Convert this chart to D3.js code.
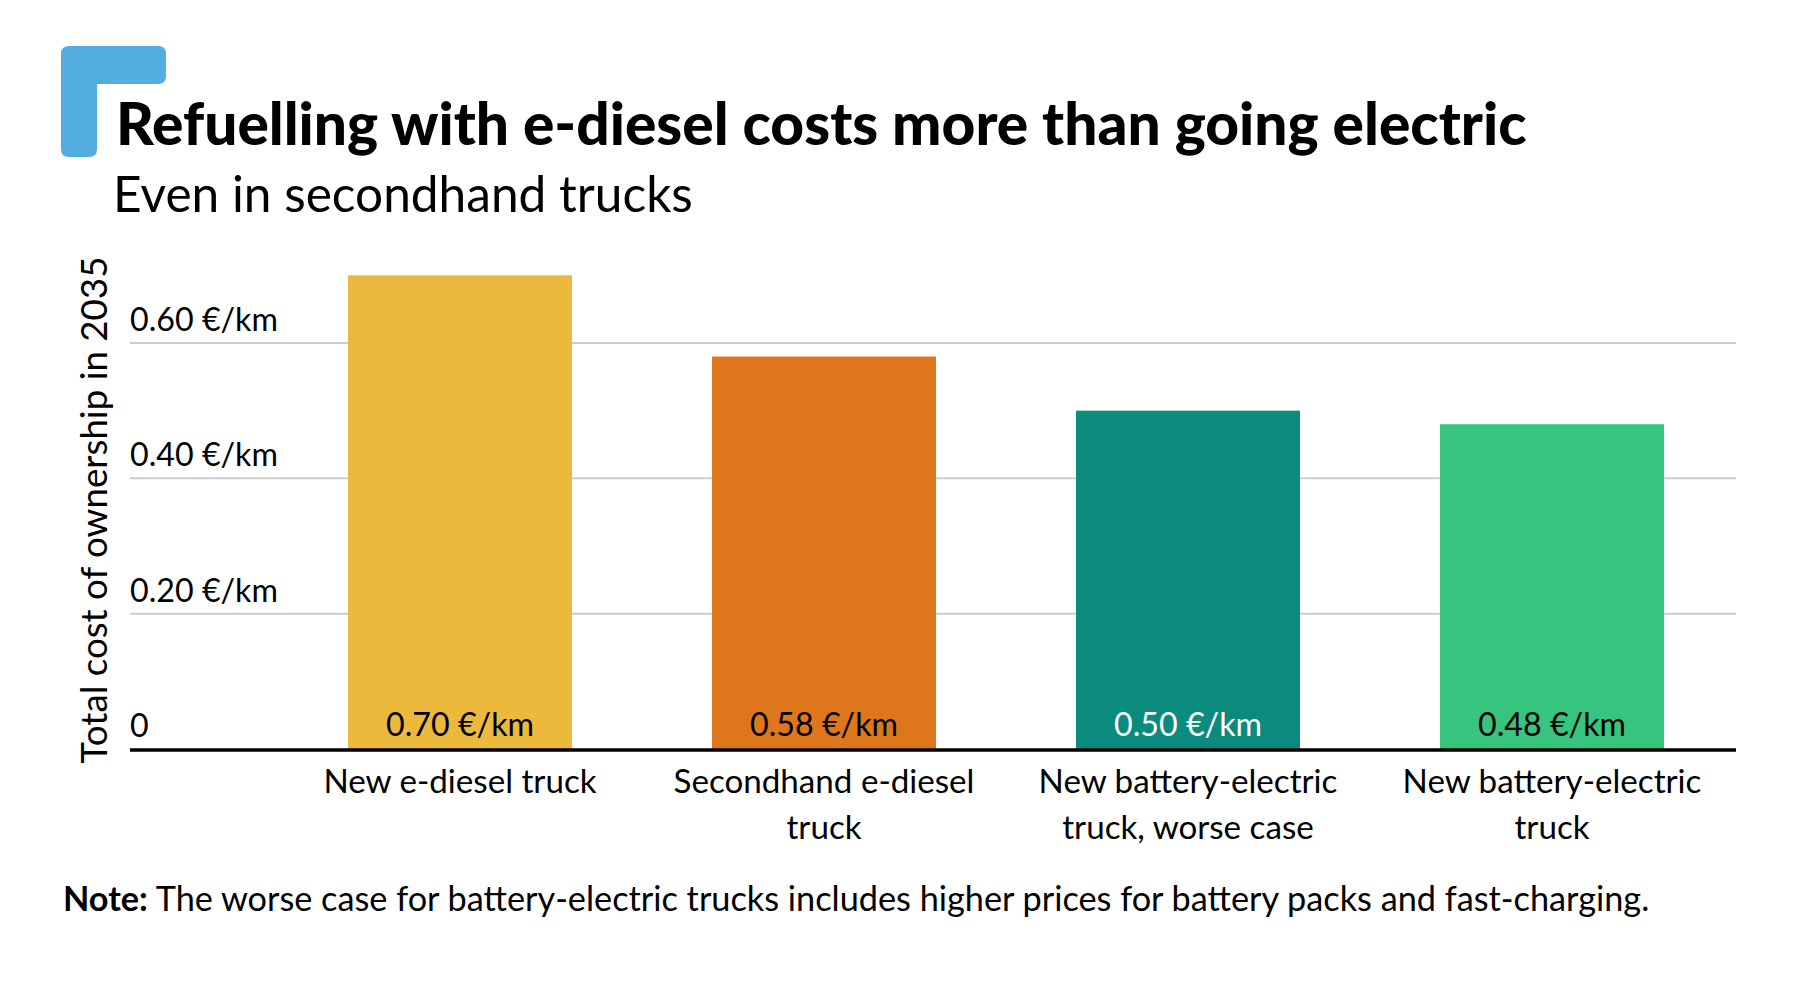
<!DOCTYPE html>
<html>
<head>
<meta charset="utf-8">
<script src="https://cdn.jsdelivr.net/npm/d3@7"></script>
<style>
  html, body { margin: 0; padding: 0; background: #fff; }
  svg { display: block; }
  text { font-family: Lato, "Noto Sans", sans-serif; fill: #000; }
</style>
</head>
<body>
<svg id="chart" width="1794" height="982"></svg>
<script>
// ---- Data ----
const categories = [
  ["New e-diesel truck"],
  ["Secondhand e-diesel", "truck"],
  ["New battery-electric", "truck, worse case"],
  ["New battery-electric", "truck"]
];
const values = [0.70, 0.58, 0.50, 0.48];
const valueLabels = ["0.70 €/km", "0.58 €/km", "0.50 €/km", "0.48 €/km"];
const barColors = ["#ECB93D", "#DE761B", "#0B8B7E", "#37C47F"];
const labelColors = ["#000", "#000", "#fff", "#000"];
const tickValues = [0, 0.2, 0.4, 0.6];
const tickLabels = ["0", "0.20 €/km", "0.40 €/km", "0.60 €/km"];
const title = "Refuelling with e-diesel costs more than going electric";
const subtitle = "Even in secondhand trucks";
const yTitle = "Total cost of ownership in 2035";
const noteBold = "Note:";
const noteText = " The worse case for battery-electric trucks includes higher prices for battery packs and fast-charging.";

const svg = d3.select("#chart");

// fit helper: scale font-size so text width matches target
function fit(sel, target) {
  const w = sel.node().getComputedTextLength();
  const fs = parseFloat(sel.attr("font-size"));
  sel.attr("font-size", fs * target / w);
  return fs * target / w;
}

// ---- Logo ----
const r = 8;
const lx0 = 61, lx1 = 166, ly0 = 46, ly1 = 157, lbx = 97, lby = 84;
svg.append("path")
  .attr("d", `M${lx0 + r},${ly0} L${lx1 - r},${ly0} Q${lx1},${ly0} ${lx1},${ly0 + r}
    L${lx1},${lby - r} Q${lx1},${lby} ${lx1 - r},${lby} L${lbx},${lby}
    L${lbx},${ly1 - r} Q${lbx},${ly1} ${lbx - r},${ly1} L${lx0 + r},${ly1}
    Q${lx0},${ly1} ${lx0},${ly1 - r} L${lx0},${ly0 + r} Q${lx0},${ly0} ${lx0 + r},${ly0} Z`)
  .attr("fill", "#53ADE1");

// ---- Titles ----
const t = svg.append("text").attr("x", 116).attr("y", 145)
  .attr("font-size", 56).attr("font-weight", 900).text(title);
fit(t, 1411);
const st = svg.append("text").attr("x", 113).attr("y", 212)
  .attr("font-size", 44).text(subtitle);
fit(st, 580);

// ---- Scales ----
const x = d3.scaleBand().domain(d3.range(values.length))
  .range([278, 1734]).paddingInner(0.3846).paddingOuter(0.1923);
const y = d3.scaleLinear().domain([0, 0.6]).range([749, 343]);
const gx0 = 130, gx1 = 1736;

// measure body font size from a reference label
const probe = svg.append("text").attr("font-size", 30).text(tickLabels[3]);
const bodyFs = fit(probe, 148);
probe.remove();

// gridlines
svg.append("g").selectAll("line").data(tickValues.filter(d => d > 0)).join("line")
  .attr("x1", gx0).attr("x2", gx1)
  .attr("y1", d => y(d)).attr("y2", d => y(d))
  .attr("stroke", "#cccccc").attr("stroke-width", 2);

// tick labels
svg.append("g").selectAll("text").data(tickValues).join("text")
  .attr("x", gx0).attr("y", d => y(d) - 12)
  .attr("font-size", bodyFs)
  .text((d, i) => tickLabels[i]);

// bars
svg.append("g").selectAll("rect").data(values).join("rect")
  .attr("x", (d, i) => x(i)).attr("width", x.bandwidth())
  .attr("y", d => y(d)).attr("height", d => y(0) - y(d))
  .attr("fill", (d, i) => barColors[i]);

// value labels
svg.append("g").selectAll("text").data(values).join("text")
  .attr("x", (d, i) => x(i) + x.bandwidth() / 2).attr("y", y(0) - 13)
  .attr("text-anchor", "middle").attr("font-size", bodyFs)
  .style("fill", (d, i) => labelColors[i])
  .text((d, i) => valueLabels[i]);

// baseline axis
svg.append("line").attr("x1", gx0).attr("x2", gx1)
  .attr("y1", y(0) + 1).attr("y2", y(0) + 1)
  .attr("stroke", "#000").attr("stroke-width", 3.5);

// category labels
const catFs = bodyFs * 1.03;
const cat = svg.append("g").selectAll("text").data(categories).join("text")
  .attr("text-anchor", "middle").attr("font-size", catFs)
  .attr("y", 793);
cat.selectAll("tspan").data((d, i) => d.map(s => ({ s, i }))).join("tspan")
  .attr("x", d => x(d.i) + x.bandwidth() / 2)
  .attr("dy", (d, j) => j === 0 ? 0 : 46)
  .text(d => d.s);

// y-axis title
const yt = svg.append("text")
  .attr("transform", "translate(107,510) rotate(-90)")
  .attr("text-anchor", "middle").attr("font-size", 32).text(yTitle);
fit(yt, 507);

// note
const note = svg.append("text").attr("x", 63).attr("y", 911).attr("font-size", bodyFs);
note.append("tspan").attr("font-weight", 700).text(noteBold);
note.append("tspan").text(noteText);
fit(note, 1587);
</script>
</body>
</html>
